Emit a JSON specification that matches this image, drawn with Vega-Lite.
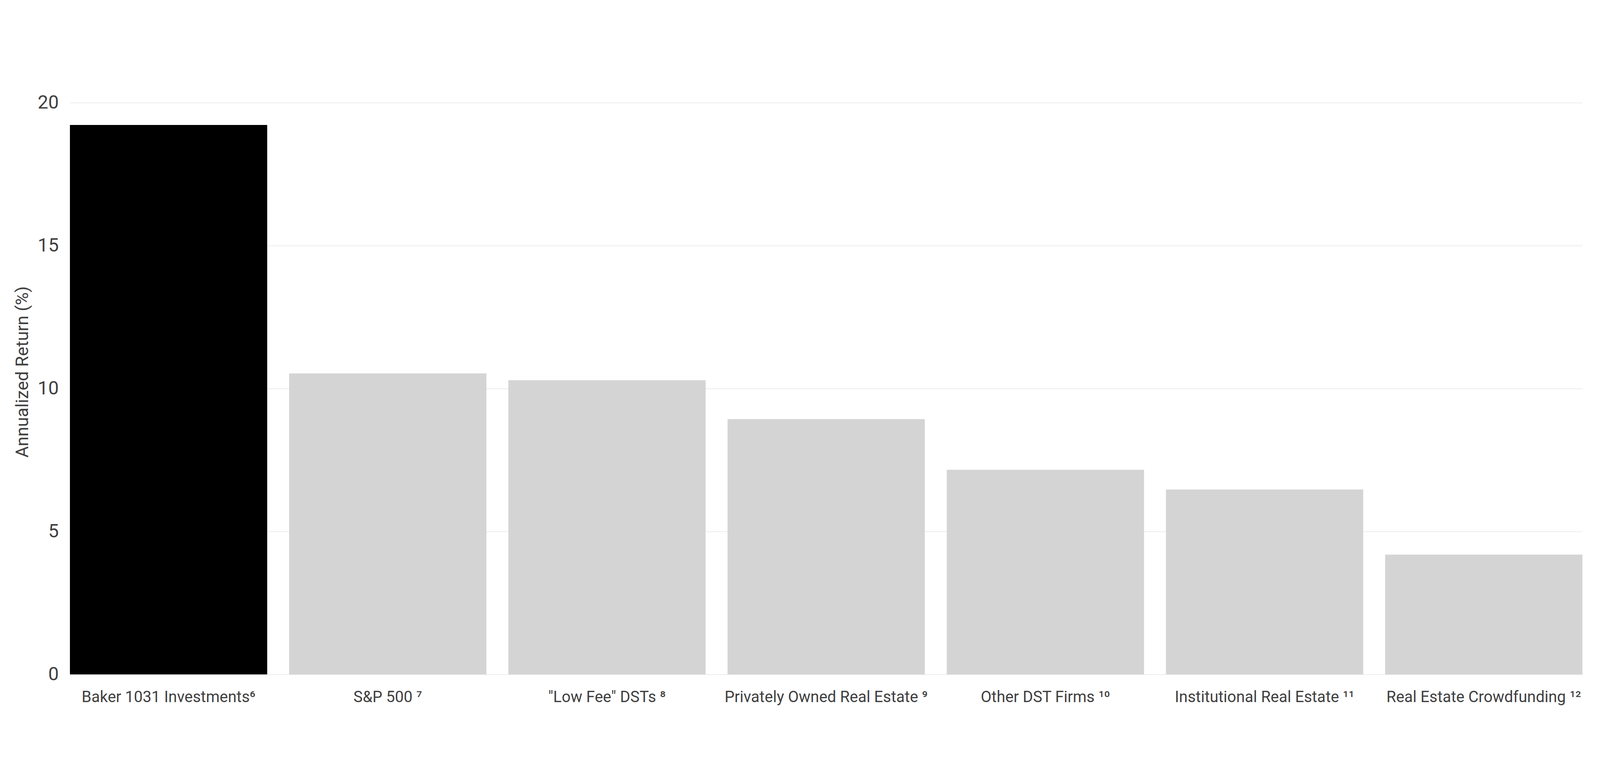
{
  "$schema": "https://vega.github.io/schema/vega-lite/v6.json",
  "width": 3872,
  "height": 1464,
  "autosize": {"type": "none"},
  "padding": {"left": 179, "top": 263, "right": 45, "bottom": 321},
  "background": "white",
  "config": {"view": {"stroke": null}, "font": "Roboto"},
  "data": {
    "values": [
      {"category": "Baker 1031 Investments⁶", "return": 19.22},
      {"category": "S&P 500 ⁷", "return": 10.53},
      {"category": "\"Low Fee\" DSTs ⁸", "return": 10.29},
      {"category": "Privately Owned Real Estate ⁹", "return": 8.93},
      {"category": "Other DST Firms ¹⁰", "return": 7.16},
      {"category": "Institutional Real Estate ¹¹", "return": 6.47},
      {"category": "Real Estate Crowdfunding ¹²", "return": 4.19}
    ]
  },
  "mark": {"type": "bar"},
  "encoding": {
    "x": {
      "field": "category",
      "type": "nominal",
      "sort": null,
      "scale": {"paddingInner": 0.1, "paddingOuter": 0},
      "axis": {
        "title": null,
        "labelAngle": 0,
        "labelFont": "Roboto",
        "labelFontSize": 40,
        "labelColor": "#404040",
        "labelPadding": 38,
        "labelLimit": 0,
        "ticks": false,
        "domain": false,
        "grid": false
      }
    },
    "y": {
      "field": "return",
      "type": "quantitative",
      "scale": {"domain": [0, 20]},
      "axis": {
        "title": "Annualized Return (%)",
        "titleFont": "Roboto",
        "titleFontSize": 45,
        "titleFontWeight": "normal",
        "titleColor": "#404040",
        "titlePadding": 16,
        "titleY": 689,
        "values": [0, 5, 10, 15, 20],
        "labelFont": "Roboto",
        "labelFontSize": 48,
        "labelColor": "#404040",
        "labelPadding": 29,
        "ticks": false,
        "domain": false,
        "grid": true,
        "gridColor": "#e6e6e6",
        "gridWidth": 1.5
      }
    },
    "color": {
      "condition": {"test": "datum.category === 'Baker 1031 Investments⁶'", "value": "#000000"},
      "value": "#d4d4d4"
    }
  }
}
